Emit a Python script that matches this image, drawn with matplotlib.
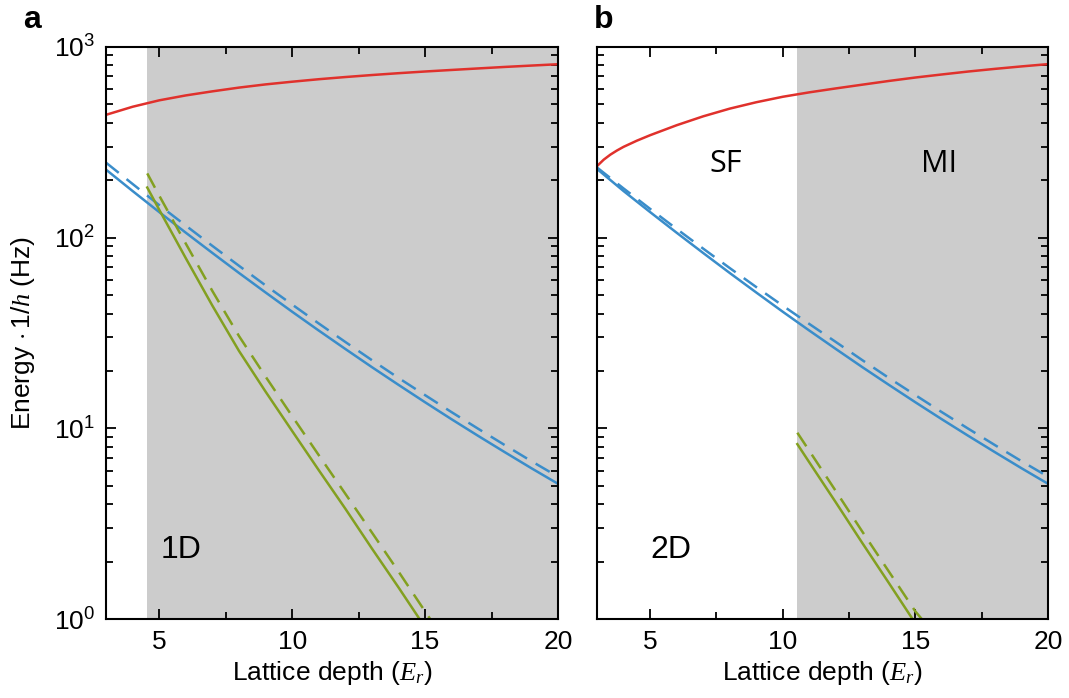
import numpy as np
import matplotlib
matplotlib.use("Agg")
import matplotlib.pyplot as plt
from matplotlib.ticker import FixedLocator, LogLocator, NullFormatter

plt.rcParams["font.family"] = ["Liberation Sans", "DejaVu Sans"]
plt.rcParams["mathtext.fontset"] = "custom"
plt.rcParams["mathtext.rm"] = "Liberation Sans"
plt.rcParams["mathtext.it"] = "Liberation Serif:italic"
plt.rcParams["mathtext.bf"] = "Liberation Sans:bold"

# lattice depth grid (E_r) used for the read-off values
depth = [3, 4, 5, 6, 7, 8, 9, 10, 11, 12, 13, 14, 15, 16, 17, 18, 19, 20]

# panel a (1D)
red_1d = [440, 485, 524, 556, 584, 611, 635, 656, 676, 694, 711, 727, 742, 756, 770, 784, 797, 810]
blue_1d = [227, 175.4, 136.1, 106.1, 83.1, 65.3, 51.6, 40.9, 32.6, 26.1, 20.96, 16.93, 13.72,
           11.17, 9.14, 7.51, 6.19, 5.13]
blue_1d_dash = [247, 191, 148, 115.6, 90.5, 71.2, 56.2, 44.6, 35.5, 28.4, 22.8, 18.4, 14.95,
                12.17, 9.96, 8.18, 6.74, 5.59]
green_1d_x = [4.55, 5, 6, 7, 8, 9, 10, 11, 12, 13, 14, 14.8]
green_1d = [183, 140, 78, 44, 25.5, 15.6, 9.7, 6.05, 3.8, 2.35, 1.47, 1.0]
green_1d_dash_x = [4.55, 5, 6, 7, 8, 9, 10, 11, 12, 13, 14, 15, 15.2]
green_1d_dash = [217, 166, 93, 52.5, 30.5, 18.7, 11.6, 7.25, 4.55, 2.85, 1.78, 1.1, 1.0]

# panel b (2D)
red_2d_x = [3, 3.25, 3.5, 3.75, 4, 4.5, 5, 6, 7, 8, 9, 10, 11, 12, 13, 14, 15, 16, 17, 18, 19, 20]
red_2d = [237, 256, 272, 286, 299, 322, 344, 388, 432, 474, 512, 547, 577, 605, 633, 662, 690,
          716, 742, 766, 789, 811]
blue_2d = [229, 175.4, 136.1, 106.1, 83.1, 65.3, 51.6, 40.9, 32.6, 26.1, 20.96, 16.93, 13.72,
           11.17, 9.14, 7.51, 6.19, 5.13]
blue_2d_dash = [233, 181, 141.5, 111.1, 87.6, 69.3, 55.1, 44.0, 35.3, 28.4, 22.8, 18.4, 14.95,
                12.17, 9.96, 8.18, 6.74, 5.59]
green_2d_x = [10.55, 11, 12, 13, 14, 14.9]
green_2d = [8.28, 6.65, 4.1, 2.51, 1.55, 1.0]
green_2d_dash_x = [10.55, 11, 12, 13, 14, 15, 15.25]
green_2d_dash = [9.5, 7.64, 4.7, 2.88, 1.78, 1.1, 1.0]

shade_start = [4.55, 10.55]

RED = "#e0312c"
BLUE = "#3a8dca"
GREEN = "#83a020"
DASH = (6.5, 4)

fig = plt.figure(figsize=(10.69, 6.98), dpi=100)
ax_a = fig.add_axes([0.0992, 0.1127, 0.4228, 0.8203])
ax_b = fig.add_axes([0.5585, 0.1127, 0.4219, 0.8203])

panels = [
    (ax_a, depth, red_1d, blue_1d, blue_1d_dash, green_1d_x, green_1d, green_1d_dash_x, green_1d_dash),
    (ax_b, red_2d_x, red_2d, blue_2d, blue_2d_dash, green_2d_x, green_2d, green_2d_dash_x, green_2d_dash),
]

for i, (ax, rx, red, blue, blue_d, gx, g, gdx, gd) in enumerate(panels):
    ax.axvspan(shade_start[i], 20, color="#cccccc", lw=0, zorder=0)
    ax.plot(rx, red, color=RED, lw=1.8)
    ax.plot(depth, blue, color=BLUE, lw=1.8)
    ax.plot(depth, blue_d, color=BLUE, lw=1.8, dashes=DASH)
    ax.plot(gx, g, color=GREEN, lw=1.8)
    ax.plot(gdx, gd, color=GREEN, lw=1.8, dashes=DASH)

    ax.set_yscale("log")
    ax.set_xlim(3, 20)
    ax.set_ylim(1, 1000)
    ax.xaxis.set_major_locator(FixedLocator([5, 10, 15, 20]))
    ax.xaxis.set_minor_locator(FixedLocator([7.5, 12.5, 17.5]))
    ax.yaxis.set_major_locator(LogLocator(base=10, numticks=10))
    ax.yaxis.set_minor_locator(LogLocator(base=10, subs=np.arange(2, 10), numticks=10))
    ax.yaxis.set_minor_formatter(NullFormatter())
    ax.tick_params(which="both", direction="in", top=True, right=True, labelsize=19, width=1.3)
    ax.tick_params(which="major", length=7.5, pad=8)
    ax.tick_params(which="minor", length=4.8)
    for sp in ax.spines.values():
        sp.set_linewidth(1.5)
    ax.set_xlabel(r"Lattice depth ($E_r$)", fontsize=19, labelpad=3)

ax_a.set_ylabel(r"Energy $\cdot\,1/h$ (Hz)", fontsize=19)
ax_a.yaxis.set_label_coords(-0.152, 0.5)
ax_b.tick_params(axis="y", which="both", labelleft=False)

ax_a.text(5.05, 2.3, "1D", fontsize=23, va="center", ha="left")
ax_b.text(5.0, 2.3, "2D", fontsize=23, va="center", ha="left")
ax_b.text(7.84, 243, "SF", fontsize=22, va="center", ha="center", family=["Open Sans", "DejaVu Sans"])
ax_b.text(15.88, 243, "MI", fontsize=22, va="center", ha="center", family=["Open Sans", "DejaVu Sans"])

fig.text(0.022, 0.993, "a", fontsize=23, fontweight="bold", va="top")
fig.text(0.556, 0.993, "b", fontsize=23, fontweight="bold", va="top")

fig.savefig("out.png", dpi=100)
